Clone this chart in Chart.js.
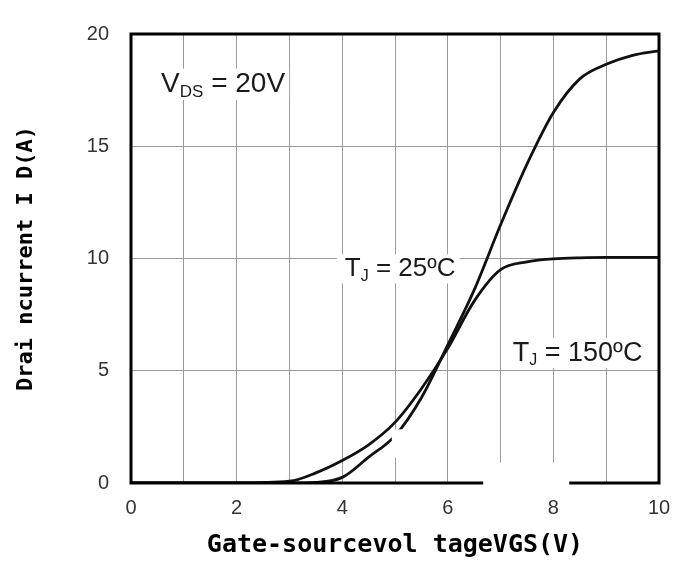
<!DOCTYPE html>
<html>
<head>
<meta charset="utf-8">
<script src="https://cdn.jsdelivr.net/npm/chart.js@4.4.0/dist/chart.umd.min.js"></script>
<style>
  html, body { margin: 0; padding: 0; background: #fff; }
  #wrap { width: 689px; height: 563px; position: relative; }
</style>
</head>
<body>
<div id="wrap"><canvas id="transferChart"></canvas></div>
<script>
// gate-source voltage (V) and drain current (A)
const vgs = [0, 1, 2, 3, 3.5, 4, 4.5, 5, 5.5, 6, 6.5, 7, 7.5, 8, 8.5, 9, 9.5, 10];
const id25C = [0, 0, 0, 0, 0.03, 0.25, 1.15, 2.1, 3.8, 6.15, 8.6, 11.5, 14.2, 16.5, 18.0, 18.65, 19.05, 19.25];
const id150C = [0, 0, 0, 0.08, 0.45, 1.0, 1.7, 2.7, 4.2, 6.0, 8.1, 9.5, 9.85, 9.98, 10.03, 10.05, 10.05, 10.05];
const xTicks = [0, 2, 4, 6, 8, 10];
const yTicks = [0, 5, 10, 15, 20];

const pts = (ys) => vgs.map((v, i) => ({ x: v, y: ys[i] }));

// text labels inside the plot (value coords of text start / baseline)
const notes = [
  { v: 0.57, i: 17.4, main: 'V', sub: 'DS', rest: ' = 20V', size: 28 },
  { v: 4.05, i: 9.2, main: 'T', sub: 'J', rest: ' = 25ºC', size: 26 },
  { v: 7.23, i: 5.45, main: 'T', sub: 'J', rest: ' = 150ºC', size: 27 }
];
// white patches that blank part of the original scan
const patches = [[4.94, 2.39, 5.95, 1.13], [6.67, 0.91, 8.3, -0.26]];

const plotExtras = {
  id: 'plotExtras',
  beforeDatasetsDraw(chart) {
    const { ctx, scales: { x, y } } = chart;
    notes.forEach(n => {
      const px = x.getPixelForValue(n.v), py = y.getPixelForValue(n.i);
      const big = n.size + 'px "Liberation Sans", Arial, sans-serif';
      const small = Math.round(n.size * 0.6) + 'px "Liberation Sans", Arial, sans-serif';
      ctx.save();
      ctx.font = big;
      const w1 = ctx.measureText(n.main).width;
      const w3 = ctx.measureText(n.rest).width;
      ctx.font = small;
      const w2 = ctx.measureText(n.sub).width;
      ctx.fillStyle = '#fff';
      ctx.fillRect(px - 8, py - n.size * 0.85, w1 + w2 + w3 + 12, n.size * 1.12);
      ctx.fillStyle = '#1a1a1a';
      ctx.textAlign = 'left';
      ctx.textBaseline = 'alphabetic';
      ctx.font = big;
      ctx.fillText(n.main, px, py);
      ctx.font = small;
      ctx.fillText(n.sub, px + w1, py + n.size * 0.17);
      ctx.font = big;
      ctx.fillText(n.rest, px + w1 + w2, py);
      ctx.restore();
    });
  },
  afterDatasetsDraw(chart) {
    const { ctx, chartArea: a } = chart;
    ctx.save();
    ctx.strokeStyle = '#000';
    ctx.lineWidth = 3;
    ctx.strokeRect(a.left, a.top, a.right - a.left, a.bottom - a.top);
    ctx.restore();
  },
  afterDraw(chart) {
    const { ctx, scales: { x, y } } = chart;
    ctx.save();
    ctx.fillStyle = '#fff';
    patches.forEach(p => {
      const x0 = x.getPixelForValue(p[0]), y0 = y.getPixelForValue(p[1]);
      const x1 = x.getPixelForValue(p[2]), y1 = y.getPixelForValue(p[3]);
      ctx.fillRect(x0, y0, x1 - x0, y1 - y0);
    });
    ctx.restore();
  }
};

const curve = (data) => ({
  data: data,
  borderColor: '#111',
  borderWidth: 2.8,
  pointRadius: 0,
  fill: false,
  cubicInterpolationMode: 'monotone'
});

new Chart(document.getElementById('transferChart'), {
  type: 'line',
  data: {
    datasets: [curve(pts(id25C)), curve(pts(id150C))]
  },
  options: {
    responsive: true,
    maintainAspectRatio: false,
    animation: false,
    layout: { padding: { top: 23, right: 30, left: 0, bottom: 0 } },
    plugins: { legend: { display: false }, tooltip: { enabled: false } },
    scales: {
      x: {
        type: 'linear',
        min: 0,
        max: 10,
        afterFit: (s) => { s.height = 80; },
        grid: { color: '#9a9a9a', lineWidth: 1, drawTicks: false },
        border: { display: false },
        ticks: {
          stepSize: 1,
          autoSkip: false,
          padding: 13,
          color: '#333',
          font: { family: '"Liberation Sans", Arial, sans-serif', size: 20 },
          callback: (v) => xTicks.includes(v) ? String(v) : ''
        },
        title: {
          display: true,
          text: 'Gate-sourcevol tageVGS(V)',
          color: '#000',
          font: { family: '"DejaVu Sans Mono", monospace', size: 25, weight: 'bold', lineHeight: 1 },
          padding: { top: 0, bottom: 5 }
        }
      },
      y: {
        type: 'linear',
        min: 0,
        max: 20,
        afterFit: (s) => { s.width = 131; },
        grid: { color: '#9a9a9a', lineWidth: 1, drawTicks: false },
        border: { display: false },
        ticks: {
          stepSize: 5,
          padding: 22,
          color: '#333',
          font: { family: '"Liberation Sans", Arial, sans-serif', size: 20 },
          callback: (v) => yTicks.includes(v) ? String(v) : ''
        },
        title: {
          display: true,
          text: 'Drai ncurrent I D(A)',
          color: '#000',
          font: { family: '"DejaVu Sans Mono", monospace', size: 22, weight: 'bold', lineHeight: 1 },
          padding: { top: 15, bottom: 0 }
        }
      }
    }
  },
  plugins: [plotExtras]
});
</script>
</body>
</html>
